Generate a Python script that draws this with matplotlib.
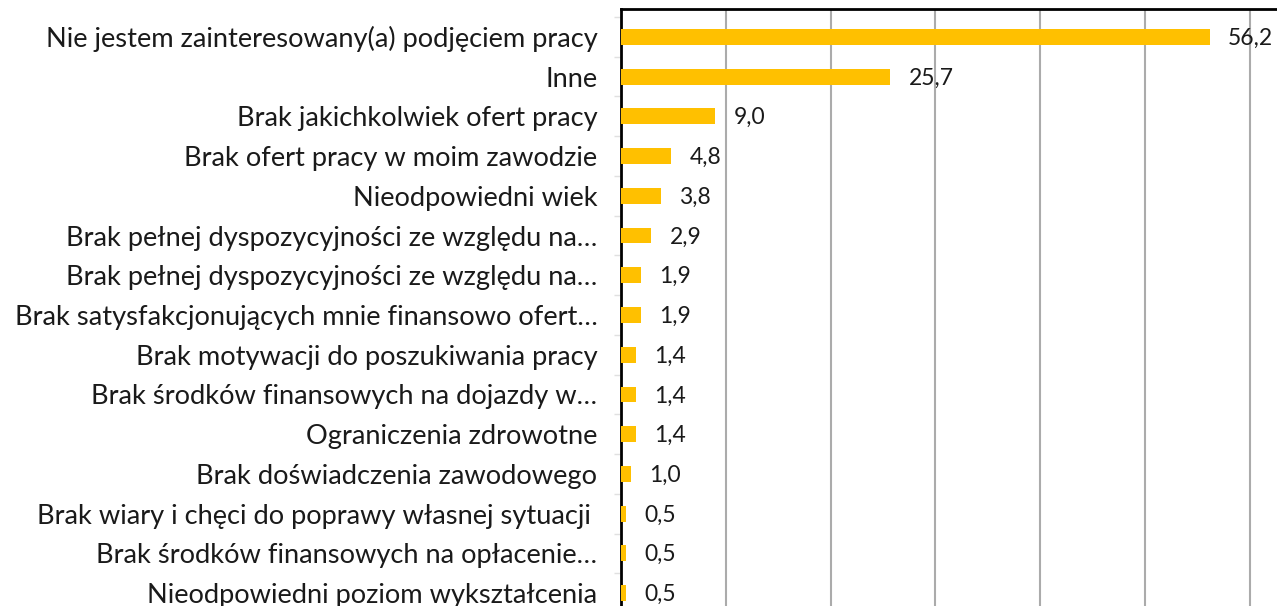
import matplotlib
matplotlib.use("Agg")
import matplotlib.pyplot as plt
import numpy as np

categories = [
    "Nie jestem zainteresowany(a) podjęciem pracy",
    "Inne",
    "Brak jakichkolwiek ofert pracy",
    "Brak ofert pracy w moim zawodzie",
    "Nieodpowiedni wiek",
    "Brak pełnej dyspozycyjności ze względu na…",
    "Brak pełnej dyspozycyjności ze względu na…",
    "Brak satysfakcjonujących mnie finansowo ofert…",
    "Brak motywacji do poszukiwania pracy",
    "Brak środków finansowych na dojazdy w…",
    "Ograniczenia zdrowotne",
    "Brak doświadczenia zawodowego",
    "Brak wiary i chęci do poprawy własnej sytuacji ",
    "Brak środków finansowych na opłacenie…",
    "Nieodpowiedni poziom wykształcenia",
]
values = [56.2, 25.7, 9.0, 4.8, 3.8, 2.9, 1.9, 1.9, 1.4, 1.4, 1.4, 1.0, 0.5, 0.5, 0.5]
value_labels = ["56,2", "25,7", "9,0", "4,8", "3,8", "2,9", "1,9", "1,9",
                "1,4", "1,4", "1,4", "1,0", "0,5", "0,5", "0,5"]

plt.rcParams['font.family'] = ['Lato', 'DejaVu Sans']

W, H = 1277, 606
fig = plt.figure(figsize=(W / 100, H / 100), dpi=100)

# axes in pixel coords: left spine at x=621, top at y=9, runs past the right/bottom edge
left_px, top_px = 621, 9
right_px, bottom_px = 621 + 70 * 10.48, 9 + 15.4 * 39.74
ax = fig.add_axes([left_px / W, 1 - bottom_px / H,
                   (right_px - left_px) / W, (bottom_px - top_px) / H])

y = np.arange(len(categories))
ax.barh(y, values, height=0.4, color="#FFC000", zorder=3)

ax.set_xlim(0, 70)
ax.set_ylim(14.7, -0.7)
ax.set_xticks(np.arange(10, 70, 10))
ax.xaxis.grid(True, color="#ABABAB", linewidth=1.5, zorder=0)
ax.tick_params(axis="x", length=0, labelbottom=False)

ax.set_yticks(y)
ax.set_yticklabels(categories, fontsize=19.6, color="#1a1a1a")
ax.tick_params(axis="y", which="major", length=0, pad=17)
# faint category separator ticks on the left
ax.set_yticks(np.arange(-0.5, len(categories), 1), minor=True)
ax.tick_params(axis="y", which="minor", length=5, width=1, color="#e0e0e0")

for s in ["right", "bottom"]:
    ax.spines[s].set_visible(False)
for s in ["left", "top"]:
    ax.spines[s].set_linewidth(2)
    ax.spines[s].set_color("black")

for yi, v, lab in zip(y, values, value_labels):
    ax.annotate(lab, (v, yi), xytext=(13, -1), textcoords="offset points",
                ha="left", va="center", fontsize=16.5, color="#1a1a1a")

fig.savefig("out.png", dpi=100)
